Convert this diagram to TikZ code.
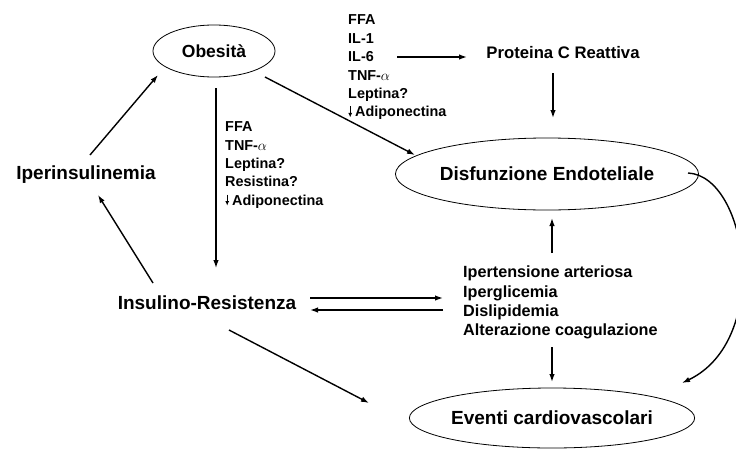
\documentclass[tikz,border=0pt]{standalone}
\usepackage{fontspec}
\setmainfont{Liberation Sans}
\usetikzlibrary{shapes.geometric,arrows.meta,calc}
\newcommand{\dnarrowmark}{\tikz[x=1pt,y=1pt,baseline=0pt]\draw[-{Latex[length=4.5pt,width=4pt]},line width=0.9pt] (0,10.5) -- (0,-0.5);\hspace{3pt}}
\begin{document}
\begin{tikzpicture}[x=1pt,y=-1pt,
  arr/.style={-{Latex[length=8pt,width=5.5pt]},line width=1.4pt},
  ell/.style={ellipse,draw,line width=0.8pt,inner sep=0pt},
  big/.style={font=\fontsize{19}{22}\selectfont\bfseries},
  lst/.style={align=left,inner sep=0pt,anchor=north west}]
\useasboundingbox (0,0) rectangle (736,450);

\node[ell,font=\fontsize{17.5}{20}\selectfont\bfseries,minimum width=122pt,minimum height=52pt] (obes) at (214,51) {Obesità};
\node[big] (iper) at (86,175) {Iperinsulinemia};
\node[big] (insul) at (207,303) {Insulino-Resistenza};
\node[ell,big,minimum width=260pt,minimum height=72pt] (disf) at (547,174) {Disfunzione Endoteliale};
\node[ell,big,minimum width=260pt,minimum height=60pt] (event) at (552,418) {Eventi cardiovascolari};
\node[font=\fontsize{16.7}{20}\selectfont\bfseries] (prot) at (563,53) {Proteina C Reattiva};

\node[lst,font=\fontsize{14.4}{18.4}\selectfont\bfseries] (toplist) at (348,14.8)
  {FFA\\IL-1\\IL-6\\TNF-$\alpha$\\Leptina?\\\dnarrowmark Adiponectina};
\node[lst,font=\fontsize{14.4}{18.3}\selectfont\bfseries] (midlist) at (225,121.8)
  {FFA\\TNF-$\alpha$\\Leptina?\\Resistina?\\\dnarrowmark Adiponectina};
\node[lst,font=\fontsize{16.2}{19.3}\selectfont\bfseries] (low) at (463,266)
  {Ipertensione arteriosa\\Iperglicemia\\Dislipidemia\\Alterazione coagulazione};

% connectors
\draw[arr] ($(iper)+(4,-20)$) -- ($(obes)+(-56,24)$);
\draw[arr] ($(insul)+(-54,-20)$) -- ($(iper)+(12,20)$);
\draw[arr,line width=1.2pt] ($(obes)+(2,37)$) -- ($(insul)+(9,-35)$);
\draw[arr] ($(obes)+(51,26)$) -- ($(disf)+(-132,-19)$);
\draw[arr] ($(prot)+(-166,4)$) -- ($(prot)+(-96,4)$);
\draw[arr] ($(prot)+(-10,20)$) -- ($(disf)+(6,-56)$);
\draw[arr] ($(low.north west)+(89,-13)$) -- ($(disf)+(5,44)$);
\draw[arr] ($(insul)+(103,-5)$) -- ($(low.north west)+(-20,32)$);
\draw[arr] ($(low.north west)+(-20,44)$) -- ($(insul)+(103,7)$);
\draw[arr] ($(low.north west)+(89,81)$) -- ($(event)+(0,-36)$);
\draw[arr] ($(insul)+(22,27)$) -- ($(event)+(-183,-15)$);
\draw[arr] ($(disf)+(141,-1)$) .. controls (748,176) and (772,340) .. ($(event)+(130,-35)$);
\end{tikzpicture}
\end{document}
